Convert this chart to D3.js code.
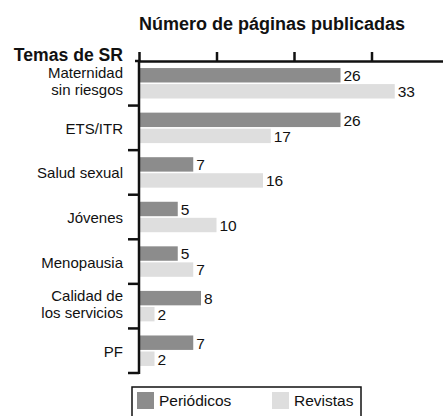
<!DOCTYPE html>
<html>
<head>
<meta charset="utf-8">
<script src="https://cdn.jsdelivr.net/npm/d3@7"></script>
<style>
  body { margin: 0; background: #fff; }
  text { font-family: "Liberation Sans", Arial, sans-serif; fill: #111; }
</style>
</head>
<body>
<div id="chart"></div>
<script>
const categories = ['Maternidad\nsin riesgos', 'ETS/ITR', 'Salud sexual', 'Jóvenes', 'Menopausia', 'Calidad de\nlos servicios', 'PF'];
const seriesNames = ['Periódicos', 'Revistas'];
const periodicos = [26, 26, 7, 5, 5, 8, 7];
const revistas = [33, 17, 16, 10, 7, 2, 2];
const xTicks = [0, 10, 20, 30, 40];
const colors = ['#8c8c8c', '#dedede'];

const dimensions = { width: 443, height: 416 };
const margin = { top: 61, left: 139, bottom: 43 };

const rows = categories.map((c, i) => ({ cat: c, values: [periodicos[i], revistas[i]] }));

const svg = d3.select('#chart')
    .append('svg')
    .attr('width', dimensions.width)
    .attr('height', dimensions.height);

const x = d3.scaleLinear()
    .domain([0, 40])
    .range([margin.left, 449]);

const y = d3.scaleBand()
    .domain(categories)
    .range([margin.top, 373]);

const ySub = d3.scaleBand()
    .domain(seriesNames)
    .range([0, y.bandwidth()])
    .paddingInner(0.1)
    .paddingOuter(0.44);

// bars
const groups = svg.selectAll('.cat')
    .data(rows)
    .enter()
        .append('g')
        .attr('class', 'cat')
        .attr('transform', d => `translate(0, ${y(d.cat)})`);

groups.selectAll('rect')
    .data(d => d.values.map((v, i) => ({ key: seriesNames[i], v, i })))
    .enter()
        .append('rect')
        .attr('x', x(0))
        .attr('y', d => ySub(d.key))
        .attr('width', d => x(d.v) - x(0))
        .attr('height', ySub.bandwidth())
        .attr('fill', d => colors[d.i]);

groups.selectAll('.val')
    .data(d => d.values.map((v, i) => ({ key: seriesNames[i], v, i })))
    .enter()
        .append('text')
        .attr('class', 'val')
        .attr('x', d => x(d.v) + 3)
        .attr('y', d => ySub(d.key) + ySub.bandwidth() / 2)
        .attr('dy', '0.38em')
        .attr('font-size', 15.5)
        .text(d => d.v);

// top axis
const xAxis = svg.append('g')
    .attr('transform', `translate(0, ${margin.top})`)
    .call(d3.axisTop(x).tickValues(xTicks).tickSize(9).tickSizeOuter(0).tickFormat(''));
xAxis.selectAll('path, line').attr('stroke', '#111').attr('stroke-width', 2.5);

// left axis with ticks at band boundaries
const bounds = categories.map(c => y(c)).concat([y.range()[1]]);
const yAxis = svg.append('g');
yAxis.append('line')
    .attr('x1', x(0)).attr('x2', x(0))
    .attr('y1', margin.top - 1).attr('y2', y.range()[1] + 1)
    .attr('stroke', '#111').attr('stroke-width', 2.5);
yAxis.selectAll('.tk')
    .data(bounds)
    .enter()
        .append('line')
        .attr('x1', (d, i) => i === 0 ? x(0) - 4 : x(0) - 11)
        .attr('x2', x(0))
        .attr('y1', d => d).attr('y2', d => d)
        .attr('stroke', '#111').attr('stroke-width', 2.5);

// category labels
svg.selectAll('.lab')
    .data(categories)
    .enter()
        .append('text')
        .attr('class', 'lab')
        .attr('text-anchor', 'end')
        .attr('font-size', 15)
        .attr('x', 123)
        .attr('y', d => y(d) + y.bandwidth() / 2)
        .each(function(d) {
            const lines = d.split('\n');
            const t = d3.select(this);
            lines.forEach((ln, i) => {
                t.append('tspan')
                    .attr('x', 123)
                    .attr('dy', i === 0 ? (lines.length > 1 ? '-0.35em' : '0.4em') : '1.13em')
                    .text(ln);
            });
        });

// titles
svg.append('text')
    .attr('x', 272)
    .attr('y', 30)
    .attr('text-anchor', 'middle')
    .attr('font-size', 18)
    .attr('font-weight', 'bold')
    .text('Número de páginas publicadas');

svg.append('text')
    .attr('x', 123)
    .attr('y', 61)
    .attr('text-anchor', 'end')
    .attr('font-size', 17.6)
    .attr('font-weight', 'bold')
    .text('Temas de SR');

// legend
const legend = svg.append('g').attr('transform', 'translate(132, 387)');
legend.append('rect')
    .attr('width', 229).attr('height', 40)
    .attr('fill', 'none').attr('stroke', '#111').attr('stroke-width', 1.5);
const legX = [5, 140];
seriesNames.forEach((s, i) => {
    legend.append('rect')
        .attr('x', legX[i]).attr('y', 5)
        .attr('width', 17).attr('height', 17)
        .attr('fill', colors[i]);
    legend.append('text')
        .attr('x', legX[i] + 22).attr('y', 19)
        .attr('font-size', 15.5)
        .text(s);
});
</script>
</body>
</html>
